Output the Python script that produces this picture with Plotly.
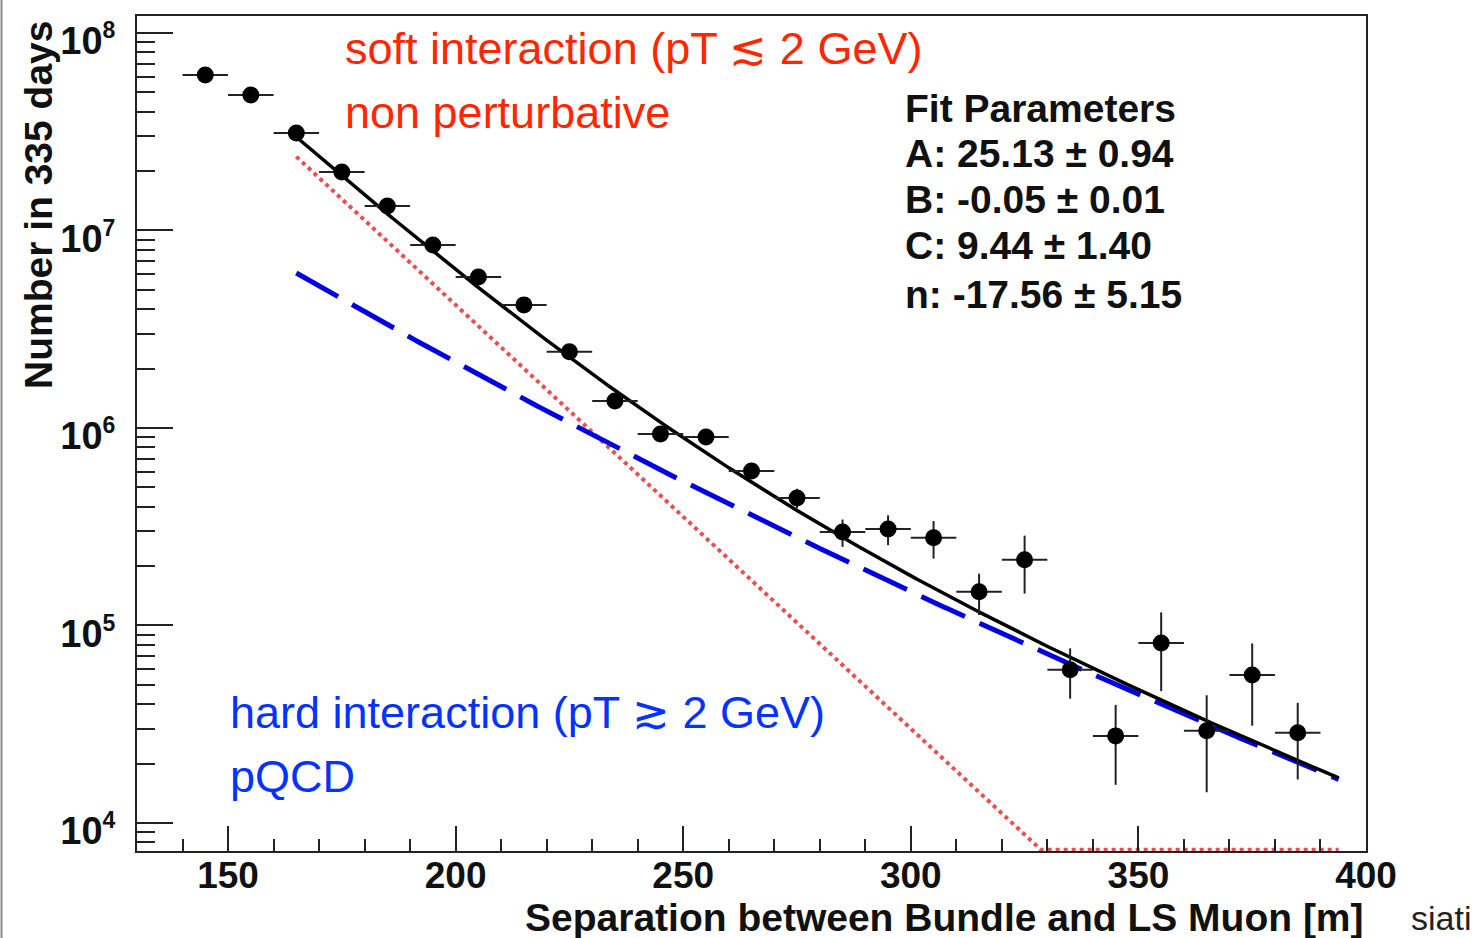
import numpy as np
import plotly.graph_objects as go

# Binned muon counts vs. separation (bin centres, 10 m bins)
separation_m = [145, 155, 165, 175, 185, 195, 205, 215, 225, 235, 245, 255, 265,
                275, 285, 295, 305, 315, 325, 335, 345, 355, 365, 375, 385]
counts = [6.13e7, 4.85e7, 3.12e7, 1.98e7, 1.33e7, 8.45e6, 5.82e6, 4.2e6, 2.43e6,
          1.37e6, 9.33e5, 9.0e5, 6.05e5, 4.42e5, 2.97e5, 3.08e5, 2.78e5, 1.48e5,
          2.15e5, 5.96e4, 2.76e4, 8.15e4, 2.93e4, 5.61e4, 2.86e4]
count_errors = [5e5, 4e5, 3e5, 3e5, 2.5e5, 2e5, 1.6e5, 1.4e5, 1.1e5, 8e4, 6e4, 6e4,
                5e4, 5e4, 4.7e4, 5.3e4, 6e4, 3.5e4, 7e4, 1.7e4, 1.2e4, 3.5e4,
                1.5e4, 2.5e4, 1.2e4]
bin_half_width = 5

# Fit components: soft = exp(A + B x), hard = N (1 + x/x0)^n
fit_A = 25.13
fit_B = -0.0494
fit_n = -17.56
hard_norm = 2.37e9
hard_scale = 408.0
fit_range = (165, 394)

fit_labels = ["Fit Parameters", "A: 25.13 \u00b1 0.94", "B: -0.05 \u00b1 0.01",
              "C: 9.44 \u00b1 1.40", "n: -17.56 \u00b1 5.15"]

decades = [4, 5, 6, 7, 8]
X_RANGE = [130, 400]
Y_RANGE = [3.858, 8.086]

W, H = 1473, 938
L, R, T, B = 137, 107, 16, 87
PW, PH = W - L - R, H - T - B


def px(x):
    return (x - L) / PW


def py(y):
    return (H - B - y) / PH


xf = np.linspace(fit_range[0], fit_range[1], 400)
soft = np.exp(fit_A + fit_B * xf)
hard = hard_norm * (1 + xf / hard_scale) ** fit_n
total = soft + hard
floor = 10 ** (Y_RANGE[0] + 0.006)
soft_drawn = np.maximum(soft, floor)

fig = go.Figure()
fig.add_trace(go.Scatter(x=xf, y=soft_drawn, mode="lines",
                         line=dict(color="rgb(232,80,80)", width=4, dash="dot"),
                         hoverinfo="skip"))
fig.add_trace(go.Scatter(x=xf, y=hard, mode="lines",
                         line=dict(color="rgb(0,0,225)", width=5, dash="48px,16px"),
                         hoverinfo="skip"))
fig.add_trace(go.Scatter(x=xf, y=total, mode="lines",
                         line=dict(color="black", width=3.5), hoverinfo="skip"))
fig.add_trace(go.Scatter(
    x=separation_m, y=counts, mode="markers",
    marker=dict(color="black", size=17),
    error_y=dict(type="data", array=count_errors, thickness=2, width=0, color="#222"),
    error_x=dict(type="constant", value=bin_half_width, thickness=2, width=0, color="#222"),
))

tick_font = dict(family="Liberation Sans, Arial, sans-serif", size=37, color="#111", weight="bold")

fig.update_xaxes(
    range=X_RANGE, tick0=0, dtick=50, ticks="inside", ticklen=25, tickwidth=2,
    tickcolor="#222", showline=True, linewidth=2, linecolor="#222", mirror=True,
    showgrid=False, zeroline=False, tickfont=tick_font, ticklabelstandoff=-9,
    automargin=False,
    minor=dict(dtick=10, tick0=0, ticks="inside", ticklen=12, tickwidth=2,
               tickcolor="#222", showgrid=False),
)
minor_vals = [m * 10 ** d for d in range(3, 9) for m in range(2, 10)]
fig.update_yaxes(
    type="log", range=Y_RANGE, tickmode="array",
    tickvals=[10 ** d for d in decades],
    ticktext=[f"10<sup><span style='font-size:23px'>{d}</span></sup>" for d in decades],
    ticks="inside", ticklen=36, tickwidth=2, tickcolor="#222",
    showline=True, linewidth=2, linecolor="#222", mirror=True,
    showgrid=False, zeroline=False, tickfont=dict(tick_font, size=38),
    ticklabelstandoff=12, ticklabelshift=8,
    automargin=False,
    minor=dict(tickmode="array", tickvals=minor_vals, ticks="inside", ticklen=18,
               tickwidth=2, tickcolor="#222", showgrid=False),
)

annotations = []
# axis titles (ROOT style: aligned to the axis end)
annotations.append(dict(text="Separation between Bundle and LS Muon [m]",
                        x=px(1366), y=py(918), xref="paper", yref="paper",
                        xanchor="right", yanchor="middle", showarrow=False,
                        font=dict(family="Liberation Sans, Arial, sans-serif", size=39,
                                  color="#111", weight="bold")))
annotations.append(dict(text="Number in 335 days", textangle=-90,
                        x=px(38), y=py(19), xref="paper", yref="paper",
                        xanchor="center", yanchor="top", showarrow=False,
                        font=dict(family="Liberation Sans, Arial, sans-serif", size=39,
                                  color="#111", weight="bold")))
# fit parameter box
for i, line in enumerate(fit_labels):
    yc = [108, 153, 199, 246, 295][i]
    annotations.append(dict(text=line, x=px(903), y=py(yc), xref="paper", yref="paper",
                            xanchor="left", yanchor="middle", showarrow=False,
                            font=dict(family="Liberation Sans, Arial, sans-serif", size=39,
                                      color="#111", weight="bold")))
# component descriptions
red = "#ff2600"
blue = "#0433ff"
desc_font = "Liberation Sans, Arial, sans-serif"
for text, x0, yc, col in [
    ("soft interaction (pT \u2272 2 GeV)", 343, 48, red),
    ("non perturbative", 343, 112, red),
    ("hard interaction (pT \u2273 2 GeV)", 228, 712, blue),
    ("pQCD", 228, 776, blue),
]:
    annotations.append(dict(text=text, x=px(x0), y=py(yc), xref="paper", yref="paper",
                            xanchor="left", yanchor="middle", showarrow=False,
                            font=dict(family=desc_font, size=45, color=col)))
annotations.append(dict(text="siati", x=px(1409), y=py(918), xref="paper", yref="paper",
                        xanchor="left", yanchor="middle", showarrow=False,
                        font=dict(family=desc_font, size=34, color="#222")))

fig.update_layout(
    width=W, height=H, margin=dict(l=L, r=R, t=T, b=B),
    plot_bgcolor="white", paper_bgcolor="white", showlegend=False,
    annotations=annotations,
    shapes=[dict(type="line", xref="paper", yref="paper", x0=px(1.5), x1=px(1.5),
                 y0=py(0), y1=py(H), line=dict(color="#8a8a8a", width=2))],
)

fig.write_html("out.html")
